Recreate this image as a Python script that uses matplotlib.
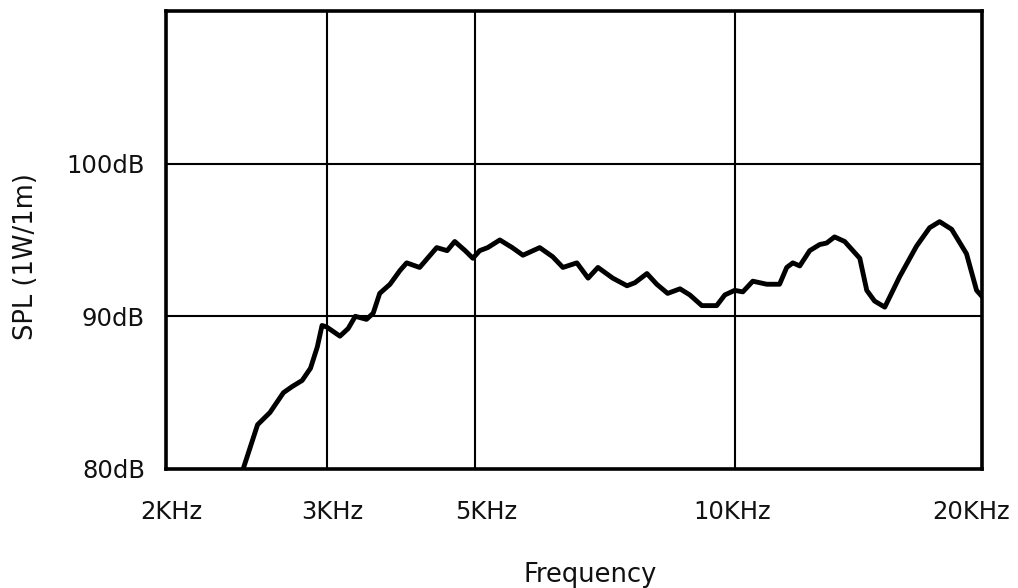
"""
SPL frequency response of a tweeter, redrawn from a datasheet scan
"""
import numpy as np
import matplotlib
matplotlib.use("Agg")
import matplotlib.pyplot as plt
from matplotlib.ticker import NullLocator
from matplotlib.transforms import ScaledTranslation

freq_hz = [2430, 2520, 2600, 2690, 2750, 2820, 2880, 2930, 2965, 3000,
           3140, 3230, 3310, 3440, 3520, 3600, 3730, 3860, 3950, 4130,
           4380, 4540, 4660, 4830, 4960, 5060, 5170, 5340, 5520, 5680,
           5940, 6150, 6320, 6560, 6760, 6940, 7220, 7500, 7660, 7910,
           8120, 8360, 8640, 8870, 9160, 9530, 9740, 10000, 10230, 10520,
           10940, 11340, 11570, 11770, 12000, 12340, 12690, 12940, 13230, 13610,
           14200, 14480, 14800, 15230, 15880, 16650, 17270, 17760, 18370, 19150,
           19700, 20000]
spl_db = [80.0, 82.9, 83.7, 85.0, 85.4, 85.8, 86.6, 88.0, 89.4, 89.3,
          88.7, 89.2, 90.0, 89.8, 90.2, 91.5, 92.1, 93.0, 93.5, 93.2,
          94.5, 94.3, 94.9, 94.3, 93.8, 94.3, 94.5, 95.0, 94.5, 94.0,
          94.5, 93.9, 93.2, 93.5, 92.5, 93.2, 92.5, 92.0, 92.2, 92.8,
          92.1, 91.5, 91.8, 91.4, 90.7, 90.7, 91.4, 91.7, 91.6, 92.3,
          92.1, 92.1, 93.2, 93.5, 93.3, 94.3, 94.7, 94.8, 95.2, 94.9,
          93.8, 91.7, 91.0, 90.6, 92.6, 94.6, 95.8, 96.2, 95.7, 94.1,
          91.7, 91.3]

x_ticks = [2000, 3000, 5000, 10000, 20000]
x_tick_labels = ["2KHz", "3KHz", "5KHz", "10KHz", "20KHz"]
y_ticks = [80, 90, 100]
y_tick_labels = ["80dB", "90dB", "100dB"]

# the printed frequency axis is only roughly logarithmic:
# piecewise-log scale pinned at the labelled decades
scale_log = np.log10(x_ticks)
scale_frac = [0.0, 0.197, 0.379, 0.697, 1.0]

# the scan's x labels sit a little off their grid lines (points)
label_shift_pt = [4, 4, 8, -2, -8]


def fwd(f):
    f = np.maximum(np.asarray(f, dtype=float), 1.0)
    return np.interp(np.log10(f), scale_log, scale_frac)


def inv(u):
    return 10 ** np.interp(np.asarray(u, dtype=float), scale_frac, scale_log)


plt.rcParams["font.family"] = ["DejaVu Sans"]

fig = plt.figure(figsize=(10.18, 5.88), dpi=100)
ax = fig.add_axes([0.163, 0.2024, 0.8016, 0.779])

ax.set_xscale("function", functions=(fwd, inv))
ax.plot(freq_hz, spl_db, color="black", lw=3.5,
        solid_joinstyle="round", solid_capstyle="round")

ax.set_xlim(2000, 20000)
ax.set_ylim(80, 110)
ax.set_xticks(x_ticks)
ax.set_xticklabels(x_tick_labels)
ax.set_yticks(y_ticks)
ax.set_yticklabels(y_tick_labels)
ax.xaxis.set_minor_locator(NullLocator())
ax.yaxis.set_minor_locator(NullLocator())

ax.tick_params(axis="both", length=0, labelsize=17.5, colors="#111111")
ax.tick_params(axis="x", pad=22)
ax.tick_params(axis="y", pad=15)

for lab, dx in zip(ax.get_xticklabels(), label_shift_pt):
    lab.set_transform(lab.get_transform()
                      + ScaledTranslation(dx / 72, 0, fig.dpi_scale_trans))

ax.grid(True, color="black", lw=1.5)
for s in ax.spines.values():
    s.set_linewidth(2.6)
    s.set_color("black")

ax.set_xlabel("Frequency", fontsize=18.5, color="#111111")
ax.set_ylabel("SPL (1W/1m)", fontsize=18.5, color="#111111")
ax.xaxis.set_label_coords(0.52, -0.203)
ax.yaxis.set_label_coords(-0.155, 0.463)

fig.savefig("out.png", dpi=100)
